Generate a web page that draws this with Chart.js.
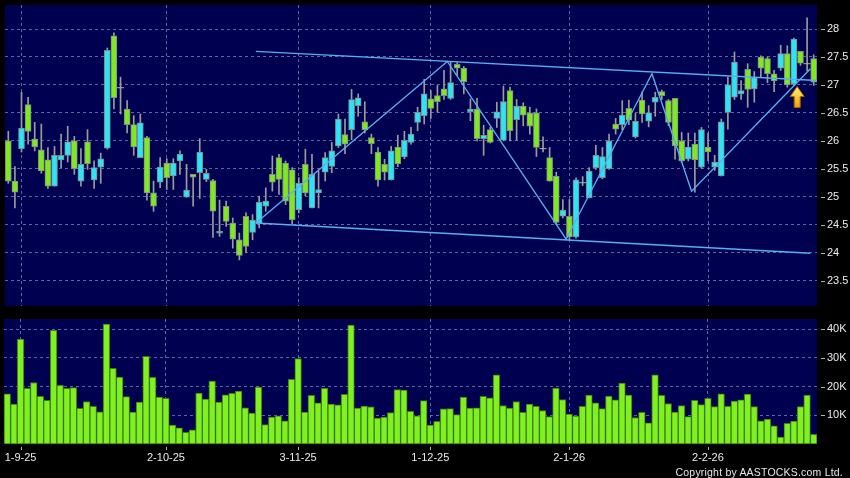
<!DOCTYPE html>
<html>
<head>
<meta charset="utf-8">
<script src="https://cdn.jsdelivr.net/npm/chart.js@4.4.1/dist/chart.umd.min.js"></script>
<style>
html, body { margin: 0; padding: 0; background: #000; }
#wrap { position: relative; width: 850px; height: 478px; overflow: hidden; background: #000; }
#price { position: absolute; left: 0; top: 0; }
#volume { position: absolute; left: 0; top: 312px; }
#copy { position: absolute; right: 7px; top: 466px; color: #e6e6e6; font: 10.5px "Liberation Sans", Arial, sans-serif; letter-spacing: 0.2px; }
</style>
</head>
<body>
<div id="wrap">
  <canvas id="price" width="850" height="312"></canvas>
  <canvas id="volume" width="850" height="166"></canvas>
  <div id="copy">Copyright by AASTOCKS.com Ltd.</div>
</div>
<script>
// daily candles, one per trading day (28-8-25 .. 27-2-26)
var opens = [
  26.00, 25.28, 25.86, 26.65, 26.03, 25.84, 25.66, 25.19, 25.66, 25.74,
  26.00, 25.28, 25.98, 25.30, 25.53, 25.87, 27.88, 26.95, 26.57, 26.29,
  25.70, 26.06, 25.07, 25.26, 25.60, 25.37, 25.64, 24.99, 25.40, 25.43,
  25.31, 25.29, 24.35, 24.83, 24.53, 24.23, 24.65, 24.36, 24.52, 24.83,
  25.40, 25.70, 25.60, 25.48, 24.77, 25.58, 24.80, 25.07, 25.44, 25.54,
  25.91, 26.11, 26.20, 26.63, 26.34, 26.06, 25.80, 25.58, 25.30, 25.89,
  25.71, 25.97, 26.33, 26.45, 26.75, 26.81, 26.93, 26.76, 27.37, 27.30,
  26.52, 26.57, 26.04, 26.20, 26.40, 26.01, 26.90, 26.38, 26.62, 26.50,
  26.50, 25.86, 25.70, 25.37, 24.65, 24.65, 24.28, 25.25, 24.98, 25.52,
  25.34, 25.50, 26.30, 26.29, 26.58, 26.07, 26.73, 26.35, 26.69, 26.88,
  26.72, 26.76, 26.00, 25.67, 25.94, 25.53, 25.89, 25.53, 25.37, 26.51,
  26.78, 26.84, 27.28, 26.93, 27.50, 27.47, 27.20, 27.30, 27.56, 27.02,
  27.60, 27.38, 27.47
];
var highs = [
  26.17, 25.54, 26.87, 26.78, 26.33, 26.30, 25.88, 25.90, 26.12, 26.26,
  26.08, 25.86, 26.20, 25.64, 25.78, 27.66, 27.93, 27.14, 26.72, 26.45,
  26.48, 26.08, 25.28, 25.70, 25.68, 25.68, 25.82, 25.58, 25.40, 26.04,
  25.49, 25.31, 24.94, 24.92, 24.62, 24.35, 24.71, 24.68, 25.01, 25.16,
  25.73, 25.76, 25.64, 25.52, 25.34, 25.85, 25.76, 25.46, 25.79, 25.97,
  26.48, 26.39, 26.92, 26.84, 26.70, 26.12, 25.88, 25.67, 25.90, 26.10,
  26.17, 26.24, 26.60, 27.10, 26.90, 26.99, 27.26, 27.42, 27.40, 27.33,
  26.75, 26.76, 26.28, 26.24, 26.69, 26.98, 26.96, 26.74, 26.68, 26.60,
  26.57, 26.07, 25.88, 25.44, 24.95, 24.95, 25.34, 25.36, 25.52, 25.92,
  25.88, 26.12, 26.40, 26.72, 26.73, 26.49, 26.87, 26.63, 26.87, 26.91,
  26.74, 26.76, 26.15, 26.14, 26.14, 26.24, 26.14, 25.74, 26.39, 27.14,
  27.59, 27.08, 27.38, 27.24, 27.52, 27.50, 27.26, 27.71, 27.70, 27.84,
  27.60, 28.20, 27.54
];
var lows = [
  25.24, 24.80, 25.80, 25.94, 25.82, 25.42, 25.15, 25.19, 25.52, 25.62,
  25.40, 25.19, 25.49, 25.15, 25.24, 25.85, 26.57, 26.48, 26.14, 25.74,
  25.70, 24.94, 24.74, 25.16, 25.13, 25.13, 25.40, 24.99, 24.83, 24.97,
  25.27, 24.27, 24.29, 24.47, 24.08, 23.87, 24.00, 24.23, 24.44, 24.74,
  25.10, 25.04, 24.86, 24.52, 24.71, 25.02, 24.80, 24.80, 25.28, 25.43,
  25.88, 25.77, 26.02, 26.44, 26.14, 25.77, 25.19, 25.30, 25.30, 25.54,
  25.68, 25.94, 26.18, 26.30, 26.40, 26.51, 26.74, 26.74, 27.17, 26.84,
  26.36, 26.00, 25.74, 25.96, 26.24, 26.00, 26.00, 26.01, 26.27, 26.12,
  25.72, 25.80, 25.28, 24.51, 24.62, 24.22, 24.26, 25.20, 24.98, 25.49,
  25.32, 25.49, 26.12, 26.20, 26.29, 26.05, 26.33, 26.25, 26.44, 26.74,
  26.27, 25.67, 25.61, 25.64, 25.08, 25.51, 25.64, 25.47, 25.37, 26.21,
  26.74, 26.74, 26.60, 26.69, 27.14, 27.04, 26.88, 27.26, 26.96, 26.99,
  27.35, 27.25, 26.99
];
var closes = [
  25.28, 25.08, 26.23, 26.17, 25.89, 25.46, 25.19, 25.74, 25.74, 25.98,
  25.50, 25.58, 25.59, 25.52, 25.68, 27.62, 26.77, 26.95, 26.29, 25.89,
  26.32, 25.07, 24.83, 25.53, 25.34, 25.60, 25.76, 25.12, 25.35, 25.80,
  25.42, 24.74, 24.38, 24.56, 24.24, 23.95, 24.11, 24.58, 24.90, 24.92,
  25.26, 25.31, 24.92, 24.59, 25.24, 25.07, 25.40, 25.13, 25.70, 25.82,
  26.39, 25.94, 26.74, 26.77, 26.20, 25.95, 25.30, 25.44, 25.82, 25.59,
  26.01, 26.12, 26.51, 26.84, 26.58, 26.70, 26.81, 27.04, 27.30, 27.06,
  26.57, 26.04, 26.10, 25.97, 26.52, 26.70, 26.18, 26.62, 26.46, 26.26,
  25.88, 25.86, 25.28, 24.54, 24.76, 24.28, 25.30, 25.25, 25.46, 25.74,
  25.72, 26.00, 26.21, 26.46, 26.37, 26.35, 26.48, 26.50, 26.78, 26.81,
  26.33, 25.91, 25.64, 25.89, 25.66, 26.20, 25.80, 25.62, 26.34, 27.00,
  27.41, 26.90, 26.92, 27.13, 27.30, 27.20, 27.07, 27.56, 27.00, 27.82,
  27.39, 27.38, 27.05
];
var volumes = [
  17500, 13900, 36500, 19400, 21400, 16600, 15200, 39600, 20400, 19400,
  19600, 12400, 14800, 13100, 11200, 41700, 26300, 23300, 16500, 11100,
  14600, 30500, 23200, 16300, 15900, 6600, 5600, 4100, 4900, 17700,
  15600, 21900, 14600, 17100, 17600, 18400, 12600, 10800, 19800, 6800,
  9400, 9800, 8100, 22500, 29700, 11100, 16900, 14300, 19400, 13900,
  13600, 17300, 41400, 12500, 13200, 12900, 9000, 9400, 10900, 18900,
  18800, 11400, 9800, 15100, 6600, 7900, 12200, 12300, 10200, 16300,
  12500, 12600, 16600, 16100, 24100, 13400, 12500, 14800, 11000, 13900,
  13100, 11600, 9500, 19500, 15500, 10400, 9700, 13100, 17000, 14300,
  12300, 16700, 15400, 21200, 17000, 9200, 11000, 7400, 24100, 16900,
  14100, 11100, 13400, 9500, 15200, 13700, 15900, 13000, 17500, 13100,
  14900, 15400, 17400, 13000, 8100, 8700, 6300, 2400, 7200, 8000,
  13000, 17000, 3400
];

var dateTicks = [2, 24, 44, 64, 85, 106];
var dateLabels = ['1-9-25', '2-10-25', '3-11-25', '1-12-25', '2-1-26', '2-2-26'];
var priceTicks = [23.5, 24, 24.5, 25, 25.5, 26, 26.5, 27, 27.5, 28];
var volumeTicks = [10000, 20000, 30000, 40000];

// drawn trend lines: [day position, price]
var upperChannel = [[37.5, 27.60], [122.5, 27.08]];
var lowerChannel = [[37.5, 24.53], [121.5, 23.99]];
var zigzag = [[37.5, 24.53], [66.5, 27.42], [84.5, 24.24], [97.5, 27.20], [103.5, 25.10], [121.5, 27.29]];
var signalDay = 119;

var UP = '#2ee4f4', DOWN = '#80e820', GRID = 'rgba(125,135,185,0.75)', TEXT = '#ececec', LINE = '#58aef0';

Chart.defaults.font.family = '"Liberation Sans", Arial, sans-serif';
Chart.defaults.font.size = 11;

function pts(arr) { return arr.map(function (p) { return { x: p[0], y: p[1] }; }); }

var wicks = [], bodies = [], dojis = [], volBars = [];
for (var i = 0; i < closes.length; i++) {
  wicks.push({ x: i, y: [lows[i], highs[i]] });
  if (opens[i] !== closes[i]) bodies.push({ x: i, y: [opens[i], closes[i]] });
  else dojis.push({ x: i, y: closes[i] });
  volBars.push({ x: i, y: volumes[i] });
}

var panelBg = {
  id: 'panelBg',
  beforeDraw: function (chart) {
    var a = chart.chartArea, c = chart.ctx;
    c.save();
    c.fillStyle = '#000050';
    c.fillRect(a.left, a.top, a.right - a.left, a.bottom - a.top);
    c.restore();
  }
};

var tickMarks = {
  id: 'tickMarks',
  afterDraw: function (chart, args, opts) {
    var c = chart.ctx, a = chart.chartArea, ys = chart.scales.y, xs = chart.scales.x;
    c.save();
    c.strokeStyle = '#b4b4b4';
    c.lineWidth = 1;
    c.beginPath();
    ys.ticks.forEach(function (t) {
      var p = Math.round(ys.getPixelForValue(t.value)) + 0.5;
      c.moveTo(a.right + 4, p); c.lineTo(a.right + 8, p);
    });
    if (opts.xMarks) {
      xs.ticks.forEach(function (t) {
        var p = Math.round(xs.getPixelForValue(t.value)) + 0.5;
        c.moveTo(p, a.bottom + 3); c.lineTo(p, a.bottom + 6);
      });
    }
    c.stroke();
    c.restore();
  }
};

var signalArrow = {
  id: 'signalArrow',
  afterDatasetsDraw: function (chart) {
    var c = chart.ctx;
    var x = chart.scales.x.getPixelForValue(signalDay + 0.5);
    var y = chart.scales.y.getPixelForValue(lows[signalDay]) + 1;
    var g = c.createLinearGradient(0, y, 0, y + 21);
    g.addColorStop(0, '#fff27a');
    g.addColorStop(1, '#f0a000');
    c.save();
    c.beginPath();
    c.moveTo(x, y);
    c.lineTo(x + 7, y + 10);
    c.lineTo(x + 3, y + 10);
    c.lineTo(x + 3, y + 21);
    c.lineTo(x - 3, y + 21);
    c.lineTo(x - 3, y + 10);
    c.lineTo(x - 7, y + 10);
    c.closePath();
    c.fillStyle = g;
    c.fill();
    c.strokeStyle = '#a86400';
    c.lineWidth = 1;
    c.stroke();
    c.restore();
  }
};

function noPad(s) { s.paddingTop = 0; s.paddingBottom = 0; s.paddingLeft = 0; s.paddingRight = 0; }

function dayAxis(showLabels, height) {
  return {
    type: 'linear', min: -0.5, max: 122.5, offset: false,
    afterBuildTicks: function (s) { s.ticks = dateTicks.map(function (v) { return { value: v }; }); },
    ticks: {
      display: showLabels, color: TEXT, padding: 7, maxRotation: 0, autoSkip: false,
      callback: function (v) { return dateLabels[dateTicks.indexOf(v)]; }
    },
    grid: { color: GRID, lineWidth: 1, drawTicks: false, offset: false },
    border: { display: false, dash: [3, 3] },
    afterFit: function (s) { s.height = height; noPad(s); }
  };
}

function valueAxis(lo, hi, list, fmt) {
  return {
    position: 'right', min: lo, max: hi,
    afterBuildTicks: function (s) { s.ticks = list.map(function (v) { return { value: v }; }); },
    ticks: { color: TEXT, padding: 10, callback: fmt },
    grid: { color: GRID, lineWidth: 1, drawTicks: false },
    border: { display: false, dash: [3, 3] },
    afterFit: function (s) { s.width = 33; noPad(s); }
  };
}

function trendLine(arr) {
  return { type: 'line', data: pts(arr), borderColor: LINE, borderWidth: 1.4, pointRadius: 0, order: 0 };
}

var priceChart = new Chart(document.getElementById('price'), {
  type: 'bar',
  data: {
    datasets: [
      trendLine(zigzag),
      trendLine(upperChannel),
      trendLine(lowerChannel),
      { type: 'line', data: dojis, showLine: false, pointStyle: 'line', pointRadius: 3.5,
        pointBorderColor: '#b0b0b0', pointBorderWidth: 1, order: 1 },
      { data: bodies, grouped: false, barThickness: 6, borderWidth: 1, borderSkipped: false,
        borderColor: 'rgba(128,140,140,1)',
        backgroundColor: function (ctx) { var k = ctx.raw ? ctx.raw.x : 0; return closes[k] > opens[k] ? UP : DOWN; },
        order: 2 },
      { data: wicks, grouped: false, barThickness: 1, backgroundColor: '#9c9c9c', borderWidth: 0, order: 3 }
    ]
  },
  options: {
    responsive: false, animation: false,
    layout: { padding: { left: 4, top: 5, right: 0, bottom: 6 } },
    plugins: { legend: { display: false }, tooltip: { enabled: false } },
    scales: {
      x: dayAxis(false, 0),
      y: valueAxis(23.045, 28.43, priceTicks, function (v) { return String(v); })
    }
  },
  plugins: [panelBg, tickMarks, signalArrow]
});

var volumeChart = new Chart(document.getElementById('volume'), {
  type: 'bar',
  data: {
    datasets: [
      { data: volBars, grouped: false, barPercentage: 1, categoryPercentage: 1,
        backgroundColor: '#80f020', borderColor: '#3b7d12', borderWidth: 1, borderSkipped: false }
    ]
  },
  options: {
    responsive: false, animation: false,
    layout: { padding: { left: 4, top: 7, right: 0, bottom: 0 } },
    plugins: { legend: { display: false }, tooltip: { enabled: false }, tickMarks: { xMarks: true } },
    scales: {
      x: dayAxis(true, 34),
      y: valueAxis(0, 43500, volumeTicks, function (v) { return (v / 1000) + 'K'; })
    }
  },
  plugins: [panelBg, tickMarks]
});
</script>
</body>
</html>
